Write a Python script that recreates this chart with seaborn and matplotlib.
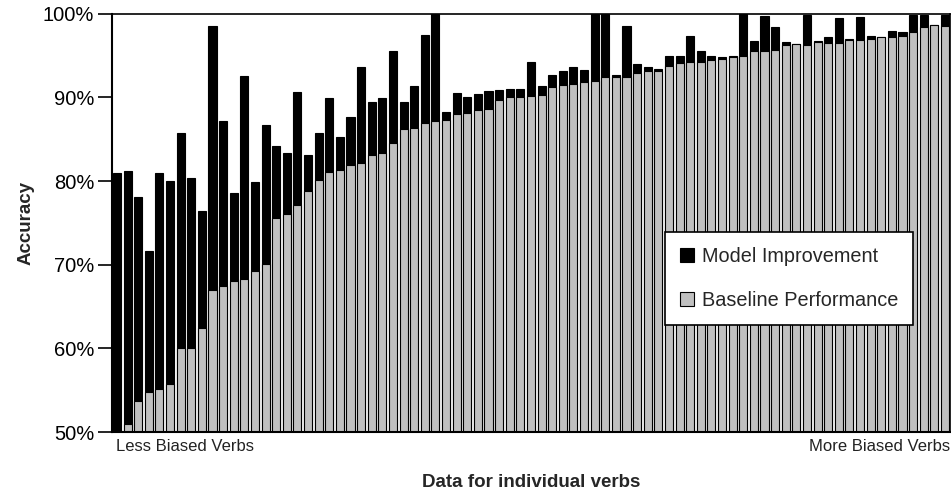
import matplotlib
matplotlib.use("Agg")
import matplotlib.pyplot as plt
import seaborn as sns
import pandas as pd
import numpy as np
from matplotlib.patches import Patch
from matplotlib.ticker import FuncFormatter

# Baseline accuracy (%) per verb, ordered from less to more biased
baseline = [50.2, 51.0, 53.7, 54.8, 55.1, 55.7, 60.0, 60.1, 62.4, 67.0,
            67.5, 68.0, 68.3, 69.2, 70.1, 75.6, 76.1, 77.1, 78.8, 80.1,
            81.1, 81.3, 81.9, 82.2, 83.1, 83.4, 84.6, 86.2, 86.4, 86.9,
            87.2, 87.3, 88.0, 88.1, 88.5, 88.6, 89.7, 90.0, 90.1, 90.2,
            90.3, 91.2, 91.5, 91.6, 91.8, 92.0, 92.4, 92.4, 92.5, 92.9,
            93.2, 93.2, 93.8, 94.1, 94.3, 94.3, 94.5, 94.6, 94.8, 94.9,
            95.5, 95.5, 95.7, 96.3, 96.4, 96.3, 96.6, 96.5, 96.5, 96.9,
            96.9, 97.0, 97.2, 97.2, 97.3, 97.8, 98.4, 98.7, 98.6]
# Accuracy with the model (%) per verb
with_model = [81.0, 81.2, 78.1, 71.6, 81.0, 80.0, 85.8, 80.4, 76.4, 98.5,
              87.2, 78.6, 92.6, 79.9, 86.7, 84.2, 83.4, 90.7, 83.1, 85.8,
              89.9, 85.3, 87.7, 93.6, 89.5, 89.9, 95.6, 89.5, 91.4, 97.5,
              100.0, 88.3, 90.5, 90.0, 90.4, 90.8, 90.9, 91.0, 91.0, 94.3,
              91.4, 92.7, 93.2, 93.6, 93.3, 100.0, 100.0, 92.7, 98.6, 94.0,
              93.6, 93.4, 95.0, 95.0, 97.3, 95.5, 94.9, 94.8, 94.9, 100.0,
              96.7, 99.7, 98.4, 96.6, 96.4, 99.9, 96.8, 97.2, 99.5, 97.0,
              99.6, 97.4, 97.2, 97.9, 97.8, 99.9, 99.9, 98.7, 99.9]
y_ticks = [50, 60, 70, 80, 90, 100]
series_labels = ["Model Improvement", "Baseline Performance"]
end_labels = ["Less Biased Verbs", "More Biased Verbs"]

verbs = list(range(len(baseline)))
df = pd.DataFrame({"verb": verbs, "baseline": baseline, "model": with_model})

sns.set_style("white")
plt.rcParams["font.family"] = ["Liberation Sans", "DejaVu Sans"]

fig = plt.figure(figsize=(9.51, 4.94), dpi=100)
ax = fig.add_axes([0.118, 0.1255, 0.881, 0.8465])

sns.barplot(data=df, x="verb", y="model", color="black", edgecolor="black",
            linewidth=0.8, width=0.76, saturation=1, ax=ax)
sns.barplot(data=df, x="verb", y="baseline", color="#c0c0c0", edgecolor="black",
            linewidth=0.8, width=0.76, saturation=1, ax=ax)

ax.set_ylim(50, 100)
ax.set_xlim(-0.45, len(baseline) - 0.52)
ax.set_yticks(y_ticks)
ax.yaxis.set_major_formatter(FuncFormatter(lambda v, p: f"{int(v)}%"))
ax.set_xticks([])
ax.tick_params(axis="y", direction="out", length=10, width=1.2, pad=3,
               labelsize=14.5, left=True, colors="black")
for s in ["left", "top", "bottom", "right"]:
    ax.spines[s].set_visible(True)
    ax.spines[s].set_color("black")
ax.spines["left"].set_linewidth(1.5)
ax.spines["bottom"].set_linewidth(1.5)
ax.spines["top"].set_linewidth(1.2)
ax.spines["right"].set_linewidth(1.2)

ax.set_ylabel("Accuracy", fontsize=13.5, fontweight="bold", labelpad=6)
ax.set_xlabel("Data for individual verbs", fontsize=13.5, fontweight="bold", labelpad=30)

ax.text(0.005, -0.035, end_labels[0], transform=ax.transAxes, ha="left", va="center",
        fontsize=12, color="#222222")
ax.text(1.0, -0.035, end_labels[1], transform=ax.transAxes, ha="right", va="center",
        fontsize=12, color="#222222")

handles = [Patch(facecolor="black", edgecolor="black", linewidth=0.8),
           Patch(facecolor="#c0c0c0", edgecolor="black", linewidth=0.8)]
leg = ax.legend(handles, series_labels, loc="upper left", bbox_to_anchor=(0.66, 0.478),
                frameon=True, fancybox=False, framealpha=1, edgecolor="black",
                fontsize=14.3, handlelength=0.7, handleheight=0.7, handletextpad=0.4,
                labelspacing=1.25, borderpad=0.75, borderaxespad=0)
leg.get_frame().set_linewidth(1.2)

fig.savefig("out.png", dpi=100)
